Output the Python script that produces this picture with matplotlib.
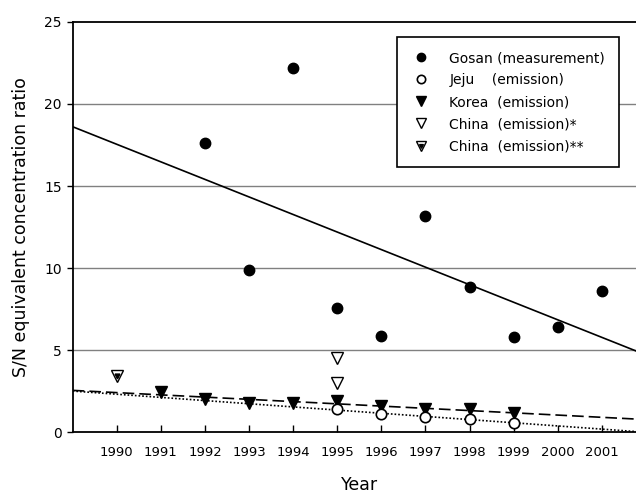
import numpy as np
import matplotlib.pyplot as plt
from matplotlib.legend_handler import HandlerTuple

# S/N equivalent concentration ratio by year
gosan_years = [1992, 1993, 1994, 1995, 1996, 1997, 1998, 1999, 2000, 2001]
gosan_ratio = [17.6, 9.9, 22.2, 7.55, 5.85, 13.2, 8.85, 5.8, 6.4, 8.6]

jeju_years = [1995, 1996, 1997, 1998, 1999]
jeju_ratio = [1.41, 1.13, 0.93, 0.82, 0.60]

korea_years = [1991, 1992, 1993, 1994, 1995, 1996, 1997, 1998, 1999]
korea_ratio = [2.49, 2.04, 1.82, 1.82, 1.92, 1.61, 1.41, 1.41, 1.17]

china1_years = [1995, 1995]
china1_ratio = [4.52, 3.0]

china2_years = [1990]
china2_ratio = [3.44]

year_ticks = list(range(1990, 2002))

fig = plt.figure(figsize=(6.36, 4.94), dpi=100)
ax = fig.add_axes([0.1143, 0.1245, 0.9014, 0.8316])

x_min, x_max = 1989, 2002
ax.set_xlim(x_min, x_max)
ax.set_ylim(0, 25)

# horizontal grid
for g in [5, 10, 15, 20]:
    ax.axhline(g, color="#808080", lw=1.0, zorder=0)

# linear trends
xx = np.array([x_min, x_max])
p = np.polyfit(gosan_years, gosan_ratio, 1)
ax.plot(xx, np.polyval(p, xx), color="black", lw=1.2, zorder=2)
p = np.polyfit(korea_years, korea_ratio, 1)
ax.plot(xx, np.polyval(p, xx), color="black", lw=1.2, ls=(0, (7, 3)), zorder=2)
p = np.polyfit(jeju_years, jeju_ratio, 1)
ax.plot(xx, np.polyval(p, xx), color="black", lw=1.2, ls=(0, (1, 1.2)), zorder=2)

ms = 7.5
h_gosan, = ax.plot(gosan_years, gosan_ratio, "o", color="black", ms=ms, zorder=4)
h_korea, = ax.plot(korea_years, korea_ratio, "v", color="black", ms=ms + 1, zorder=4)
h_jeju, = ax.plot(jeju_years, jeju_ratio, "o", mfc="white", mec="black", mew=1.2,
                  ms=ms, zorder=5)
h_china1, = ax.plot(china1_years, china1_ratio, "v", mfc="white", mec="black",
                    mew=1.0, ms=ms + 1, zorder=4)
# open triangle with a small filled one inside
h_china2a, = ax.plot(china2_years, china2_ratio, "v", mfc="white", mec="black",
                     mew=1.0, ms=ms + 1, zorder=4)
h_china2b, = ax.plot(china2_years, china2_ratio, "v", color="black", ms=3.5, zorder=5)

ax.set_xticks(year_ticks)
ax.set_xticklabels([str(y) for y in year_ticks])
ax.set_yticks([0, 5, 10, 15, 20, 25])
ax.tick_params(axis="x", direction="in", length=5, width=1.0, pad=10, labelsize=9.5)
ax.tick_params(axis="y", direction="out", length=4, width=1.0, pad=4, labelsize=10)
for s in ax.spines.values():
    s.set_linewidth(1.3)

ax.set_xlabel("Year", fontsize=12.5, labelpad=12)
ax.set_ylabel("S/N equivalent concentration ratio", fontsize=12.5, labelpad=10)

handles = [h_gosan, h_jeju, h_korea, h_china1, (h_china2a, h_china2b)]
labels = ["Gosan (measurement)", "Jeju    (emission)", "Korea  (emission)",
          "China  (emission)*", "China  (emission)**"]
leg = ax.legend(handles, labels, loc="upper left",
                bbox_to_anchor=(0.6237, 0.9245), bbox_transform=fig.transFigure,
                handler_map={tuple: HandlerTuple(ndivide=1, pad=0)},
                fontsize=10, frameon=True, fancybox=False, framealpha=1,
                edgecolor="black", labelspacing=0.58, handlelength=1.5,
                handletextpad=1.3, borderpad=1.0, borderaxespad=0,
                markerscale=0.8)
leg.get_frame().set_linewidth(1.2)

fig.savefig("out.png", dpi=100)
